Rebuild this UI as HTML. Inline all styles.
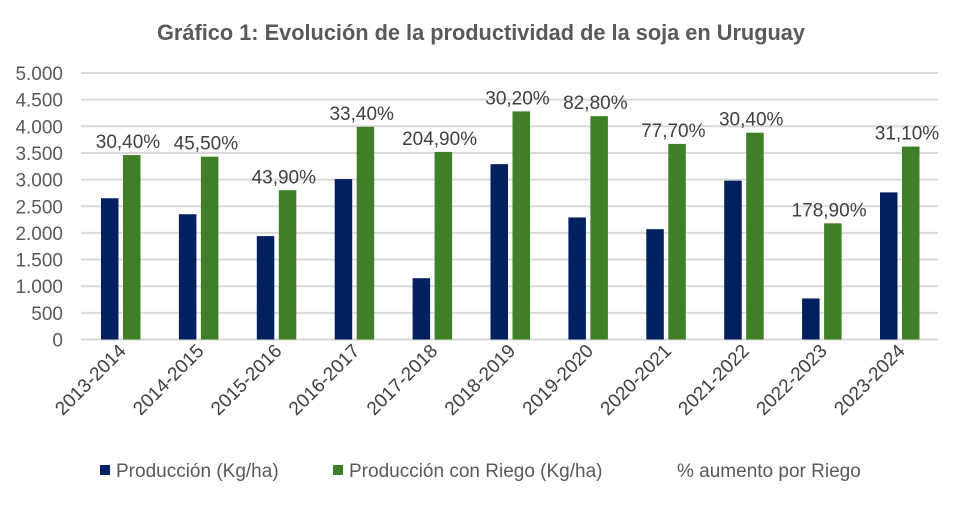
<!DOCTYPE html><html><head><style>body{margin:0;background:#fff}</style></head><body>
<svg width="961" height="503" xmlns="http://www.w3.org/2000/svg" font-family="Liberation Sans, sans-serif">
<rect width="961" height="503" fill="#fff"/>
<text x="481" y="40" text-anchor="middle" font-size="22" font-weight="bold" fill="#595959" textLength="648" lengthAdjust="spacingAndGlyphs">Gráfico 1: Evolución de la productividad de la soja en Uruguay</text>
<script>
var ns="http://www.w3.org/2000/svg",svg=document.querySelector('svg');
function el(t,a,txt){var e=document.createElementNS(ns,t);for(var k in a)e.setAttribute(k,a[k]);if(txt!=null)e.textContent=txt;svg.appendChild(e);return e;}
var y0=339.5,s=266.5/5000;
for(var i=0;i<=10;i++){var y=y0-i*500*s;el('line',{x1:81,x2:938,y1:y,y2:y,stroke:'#d9d9d9','stroke-width':2});
el('text',{x:63,y:y+7,'text-anchor':'end','font-size':19,fill:'#595959'},(i*500).toLocaleString('de-DE'));}
var d=[[2650,3460,'30,40%'],[2350,3430,'45,50%'],[1940,2800,'43,90%'],[3010,3990,'33,40%'],[1150,3520,'204,90%'],[3290,4280,'30,20%'],[2290,4190,'82,80%'],[2070,3670,'77,70%'],[2980,3880,'30,40%'],[770,2180,'178,90%'],[2760,3620,'31,10%']];
var cats=['2013-2014','2014-2015','2015-2016','2016-2017','2017-2018','2018-2019','2019-2020','2020-2021','2021-2022','2022-2023','2023-2024'];
d.forEach(function(v,i){var x=81+i*77.9;
el('rect',{x:x+20,y:y0-v[0]*s,width:17.5,height:v[0]*s,fill:'#002060'});
el('rect',{x:x+42,y:y0-v[1]*s,width:17.5,height:v[1]*s,fill:'#3f7f26'});
el('text',{x:x+47,y:y0-v[1]*s-7,'text-anchor':'middle','font-size':19,fill:'#404040'},v[2]);
var cx=x+46,cy=352;el('text',{x:cx,y:cy,'text-anchor':'end','font-size':19,fill:'#404040',transform:'rotate(-45 '+cx+' '+cy+')'},cats[i]);});
el('rect',{x:100,y:465,width:10,height:10,fill:'#002060'});
el('text',{x:116,y:477,'font-size':19,fill:'#595959'},'Producción (Kg/ha)');
el('rect',{x:333,y:465,width:10,height:10,fill:'#3f7f26'});
el('text',{x:349,y:477,'font-size':19,fill:'#595959'},'Producción con Riego (Kg/ha)');
el('text',{x:677,y:477,'font-size':19,fill:'#595959'},'% aumento por Riego');
</script>
</svg></body></html>
